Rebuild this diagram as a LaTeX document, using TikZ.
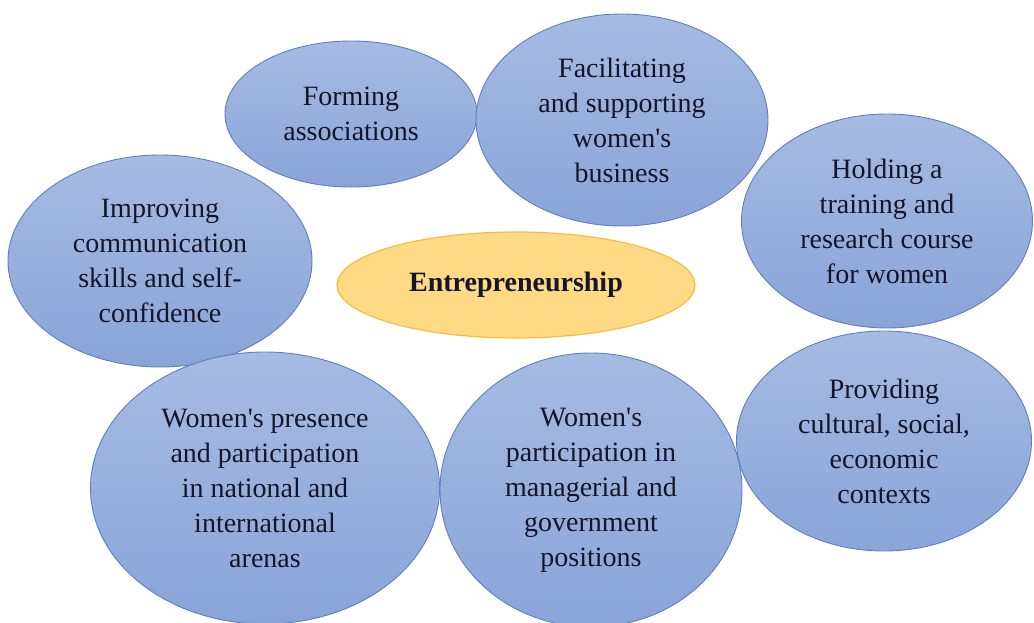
\documentclass[tikz,border=0pt]{standalone}
\usepackage{fontspec}
\setmainfont{Liberation Serif}
\usetikzlibrary{shapes.geometric}
\definecolor{bluetop}{HTML}{A6BBE3}
\definecolor{bluebot}{HTML}{8AA4D8}
\definecolor{blueedge}{HTML}{5E80BF}
\definecolor{orfill}{HTML}{FFDA85}
\definecolor{oredge}{HTML}{F2BE45}
\definecolor{txt}{HTML}{15152A}
\newcommand{\apos}{\textquotesingle}
\tikzset{
  bubble/.style={ellipse, draw=blueedge, line width=0.9pt, top color=bluetop, bottom color=bluebot,
    inner sep=0pt, outer sep=0pt, align=center, text=txt, font=\fontsize{28}{35}\selectfont},
  core/.style={ellipse, draw=oredge, line width=1.2pt, fill=orfill,
    inner sep=0pt, outer sep=0pt, align=center, text=txt, font=\bfseries\fontsize{28}{35}\selectfont}
}
\begin{document}
\begin{tikzpicture}[x=1pt,y=-1pt]
\useasboundingbox (0,0) rectangle (1034,622);
\node[bubble, minimum width=252pt, minimum height=146pt] (form) at (351,114) {Forming\\associations};
\node[bubble, minimum width=292pt, minimum height=212pt] (facil) at (622,120) {Facilitating\\and supporting\\women\apos s\\business};
\node[bubble, minimum width=291pt, minimum height=214pt] (hold) at (887,221) {Holding a\\training and\\research course\\for women};
\node[bubble, minimum width=304pt, minimum height=212pt] (impr) at (160,261) {Improving\\communication\\skills and self-\\confidence};
\node[bubble, minimum width=295pt, minimum height=220pt] (prov) at (884,441) {Providing\\cultural, social,\\economic\\contexts};
\node[bubble, minimum width=349pt, minimum height=272pt] (pres) at (265,488) {Women\apos s presence\\and participation\\in national and\\international\\arenas};
\node[bubble, minimum width=302pt, minimum height=274pt] (part) at (591,490) {Women\apos s\\participation in\\managerial and\\government\\positions};
\node[core, minimum width=358pt, minimum height=106pt] (ent) at (516,285) {Entrepreneurship};
\end{tikzpicture}
\end{document}
